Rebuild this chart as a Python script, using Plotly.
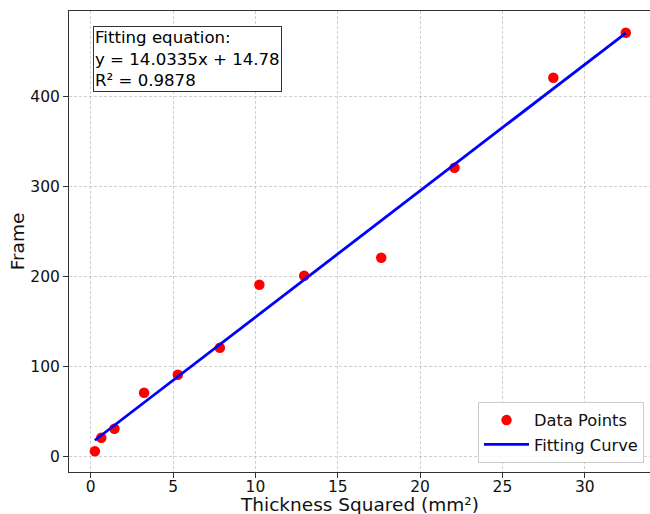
import numpy as np
import plotly.graph_objects as go

# Data
thickness_sq = [0.25, 0.64, 1.44, 3.24, 5.29, 7.84, 10.24, 12.96, 17.64, 22.09, 28.09, 32.49]
frames = [6, 21, 31, 71, 91, 121, 191, 201, 221, 321, 421, 471]
slope = 14.0335
intercept = 14.78
r_squared = 0.9878
x_ticks = [0, 5, 10, 15, 20, 25, 30]
y_ticks = [0, 100, 200, 300, 400]
x_title = "Thickness Squared (mm²)"
y_title = "Frame"

FONT = "DejaVu Sans"

fit_x = np.linspace(min(thickness_sq), max(thickness_sq), 100)
fit_y = slope * fit_x + intercept

fig = go.Figure()
fig.add_trace(go.Scatter(
    x=thickness_sq, y=frames, mode="markers", name="Data Points",
    marker=dict(color="red", size=10.5, line=dict(width=0)),
))
fig.add_trace(go.Scatter(
    x=fit_x, y=fit_y, mode="lines", name="Fitting Curve",
    line=dict(color="blue", width=2.8),
))

fig.add_annotation(
    xref="paper", yref="paper", x=0.0413, y=0.9675,
    xanchor="left", yanchor="top", align="left", showarrow=False,
    text=(f"Fitting equation:<br>y = {slope:.4f}x + {intercept:.2f}"
          f"<br>R² = {r_squared:.4f}"),
    font=dict(family=FONT, size=16.6, color="black"),
    bordercolor="#333333", borderwidth=1, borderpad=1, bgcolor="white",
)

# x-axis title placed like the reference (near the bottom edge)
fig.add_annotation(
    xref="paper", yref="paper", x=0.5, y=0, xanchor="center", yanchor="middle",
    yshift=-32, showarrow=False, text=x_title,
    font=dict(family=FONT, size=18.5, color="#111"),
)

grid = dict(showgrid=True, gridcolor="rgba(176,176,176,0.6)", griddash="3px,2px", gridwidth=0.8)

fig.update_layout(
    width=650, height=514,
    margin=dict(l=69, r=0, t=11, b=42),
    paper_bgcolor="white", plot_bgcolor="white",
    font=dict(family=FONT, color="black"),
    legend=dict(
        x=0.9897, y=0.0195, xanchor="right", yanchor="bottom",
        bgcolor="rgba(255,255,255,0.85)", bordercolor="#cccccc", borderwidth=1,
        font=dict(family=FONT, size=16.3, color="#111"), itemwidth=45,
    ),
    showlegend=True,
)
fig.update_xaxes(
    range=[-1.32, 33.96], tickvals=x_ticks, ticktext=[str(v) for v in x_ticks],
    showline=True, linecolor="#333333", linewidth=1, mirror=True,
    ticks="outside", ticklen=5, tickcolor="#333333", ticklabelstandoff=-5,
    tickfont=dict(family=FONT, size=15.5, color="#111"),
    zeroline=False, automargin=False, **grid,
)
fig.update_yaxes(
    range=[-17.0, 495.2], tickvals=y_ticks, ticktext=[str(v) for v in y_ticks],
    showline=True, linecolor="#333333", linewidth=1, mirror=False,
    ticks="outside", ticklen=5, tickcolor="#333333",
    tickfont=dict(family=FONT, size=15.5, color="#111"),
    title=dict(text=y_title, font=dict(family=FONT, size=18.5, color="#111"), standoff=0),
    zeroline=False, automargin=False, **grid,
)

fig.write_html(
    "out.html",
    config={"displayModeBar": False},
    post_script="document.body.style.margin='0';document.body.style.overflow='hidden';",
)
